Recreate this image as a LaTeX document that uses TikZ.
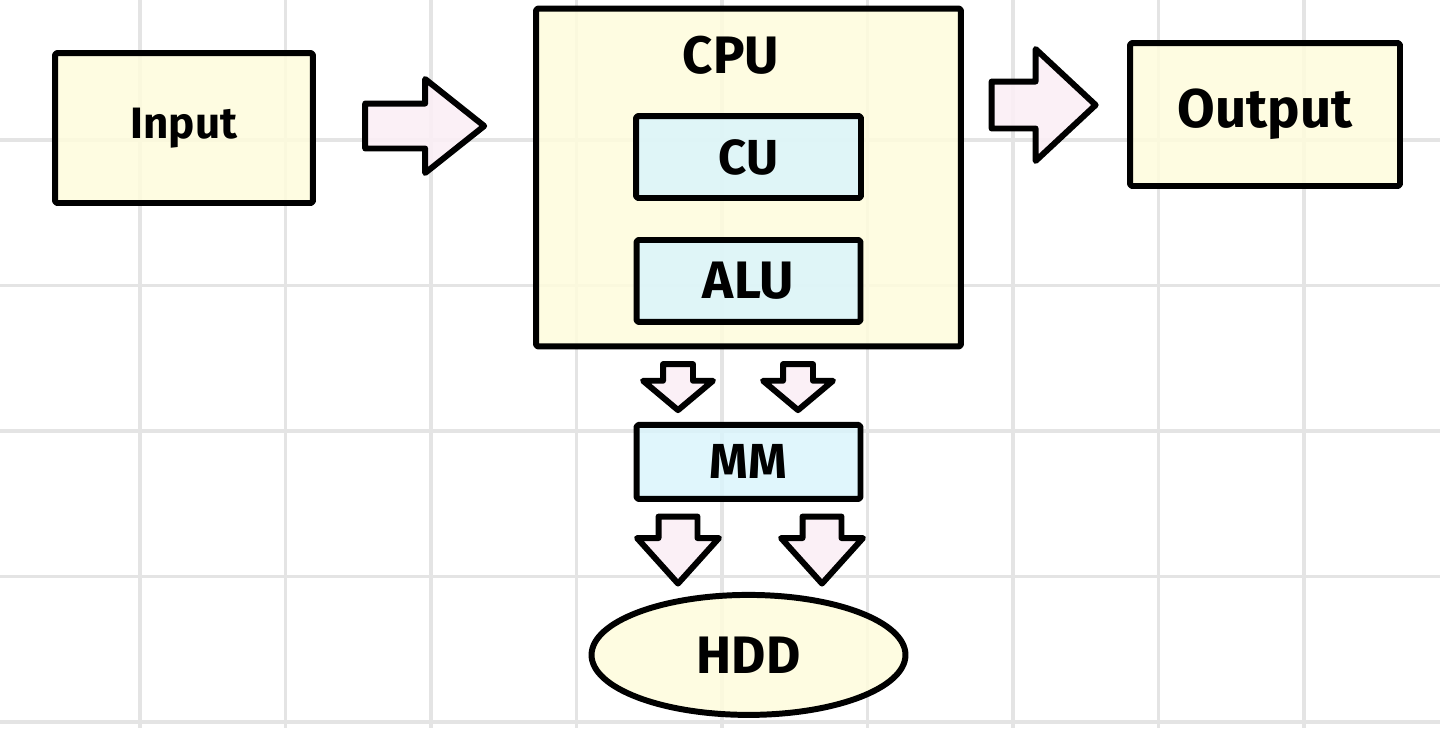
\documentclass[tikz,border=0pt]{standalone}
\usepackage{fontspec}
\setmainfont{Fira Sans}
\usetikzlibrary{shapes,arrows.meta,positioning,calc}
\definecolor{boxyellow}{HTML}{FEFCDC}
\definecolor{boxblue}{HTML}{DAF4FB}
\definecolor{arrowpink}{HTML}{FBEEF5}
\definecolor{gridgray}{HTML}{E4E4E4}
\tikzset{
    block/.style = {draw, rectangle, line width=3.4pt,
        rounded corners=1pt, fill=boxyellow,
        fill opacity=0.85, text opacity=1, align=center},
    unit/.style = {block, fill=boxblue},
    disk/.style = {block, ellipse},
    fat/.style = {draw, single arrow, line width=3.4pt, line join=round,
        fill=arrowpink, fill opacity=0.9, inner xsep=0pt, anchor=tip},
    gridline/.style = {gridgray, line width=2.2pt}
}
\newcommand{\hand}[1]{\bfseries\fontsize{#1}{#1}\selectfont}

\begin{document}
\begin{tikzpicture}[x=0.02cm, y=-0.02cm, line join=round]
    \useasboundingbox (0,0) rectangle (1440,728);
    % grid
    \foreach \g in {0,...,8}
        \draw [gridline] ({140+145.5*\g},0) -- ({140+145.5*\g},728);
    \foreach \g in {0,...,4}
        \draw [gridline] (0,{140+145.5*\g}) -- (1440,{140+145.5*\g});
    % boxes
    \node [block, minimum width=5.16cm, minimum height=3cm, font=\hand{25}] (in) at (184,128) {Input};
    \node [block, minimum width=8.5cm, minimum height=6.76cm] (cpu) at (748.5,177.5) {};
    \node [font=\hand{30}] (cpulbl) at (731,55) {CPU};
    \node [unit, minimum width=4.5cm, minimum height=1.64cm, font=\hand{28}] (cu) at (748.5,157) {CU};
    \node [unit, below of=cu, node distance=2.48cm, minimum width=4.48cm, minimum height=1.64cm, font=\hand{30}] (alu) {ALU};
    \node [unit, below of=alu, node distance=3.62cm, minimum width=4.48cm, minimum height=1.48cm, font=\hand{28}] (mm) {MM};
    \node [disk, below of=mm, node distance=3.86cm, minimum width=6.28cm, minimum height=2.4cm, font=\hand{30}] (hdd) {HDD};
    \node [block, minimum width=5.4cm, minimum height=2.86cm, font=\hand{31}] (out) at (1265,114.5) {Output};
    % fat arrows, placed by their tips
    \node [fat, minimum height=2.38cm, inner ysep=0.39cm, single arrow head extend=0.49cm, single arrow tip angle=77] (in2cpu) at (489,126) {};
    \node [fat, minimum height=2.08cm, inner ysep=0.41cm, single arrow head extend=0.65cm, single arrow tip angle=86] (cpu2out) at (1100,105) {};
    \foreach \x/\n in {678/a, 798/b}
        \node [fat, rotate=-90, minimum height=0.92cm, inner ysep=0.24cm, single arrow head extend=0.4cm, single arrow tip angle=100] (cpu2mm\n) at (\x,414) {};
    \foreach \x/\n in {678/a, 822/b}
        \node [fat, rotate=-90, minimum height=1.34cm, inner ysep=0.33cm, single arrow head extend=0.43cm, single arrow tip angle=84] (mm2hdd\n) at (\x,588) {};
\end{tikzpicture}
\end{document}
